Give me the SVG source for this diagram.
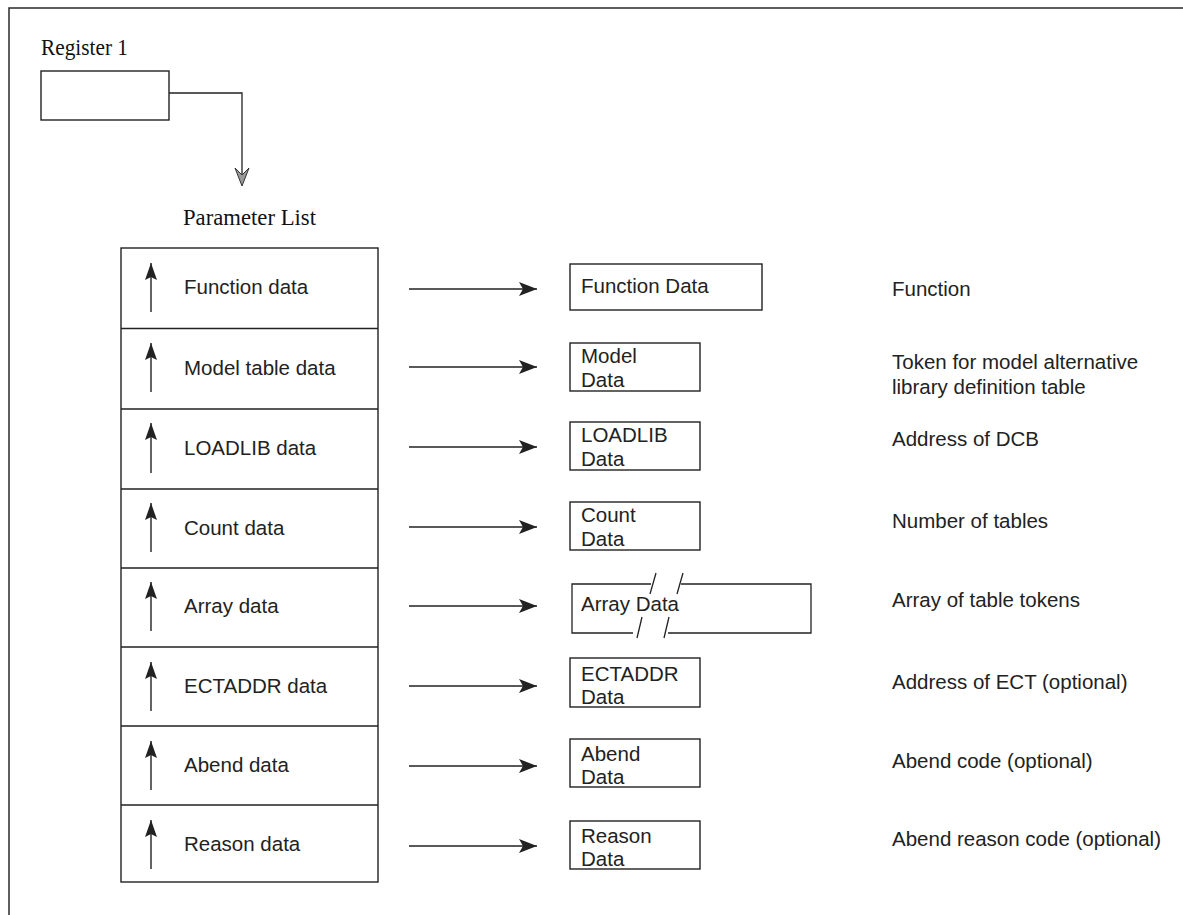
<svg xmlns="http://www.w3.org/2000/svg" width="1183" height="915" viewBox="0 0 1183 915">
  <style>
    .frame { fill: none; stroke: #2a2a2a; stroke-width: 1.5; }
    .box { fill: #ffffff; stroke: #222222; stroke-width: 1.4; }
    .line { fill: none; stroke: #222222; stroke-width: 1.3; }
    .sans { font-family: "Liberation Sans", Arial, Helvetica, sans-serif; font-size: 20.5px; fill: #222222; }
    .serif { font-family: "Liberation Serif", "Times New Roman", serif; font-size: 23px; fill: #111111; }
    .arrow-h { fill: none; stroke: #222222; stroke-width: 1.3; marker-end: url(#headRight); }
    .arrow-v { fill: none; stroke: #222222; stroke-width: 1.4; marker-end: url(#headUp); }
  </style>
  <defs>
    <marker id="headRight" viewBox="0 0 18 14" refX="18" refY="7" markerWidth="18" markerHeight="14" markerUnits="userSpaceOnUse" orient="auto">
      <path d="M0,0 L18,7 L0,14 L4,7 Z" fill="#222222"/>
    </marker>
    <marker id="headUp" viewBox="0 0 17 12" refX="17" refY="6" markerWidth="17" markerHeight="12" markerUnits="userSpaceOnUse" orient="auto">
      <path d="M0,0 L17,6 L0,12 L3,6 Z" fill="#222222"/>
    </marker>
  </defs>

  <!-- page frame (top and left edges) -->
  <path class="frame" d="M9,915 V8 H1183"/>

  <!-- register 1 -->
  <g id="register1">
    <text class="serif" x="41" y="55" textLength="87" lengthAdjust="spacingAndGlyphs">Register 1</text>
    <rect class="box" x="41" y="71" width="128" height="49"/>
  </g>

  <!-- parameter list -->
  <g id="parameter-list">
    <text class="serif" x="183" y="225" textLength="133" lengthAdjust="spacingAndGlyphs">Parameter List</text>
    <rect class="box" x="121" y="248" width="257" height="634"/>
    <path class="line" d="M121,328.5 H378 M121,409 H378 M121,489 H378 M121,568 H378 M121,647 H378 M121,726 H378 M121,805 H378"/>
    <g id="cell-function"><text class="sans" x="184" y="294">Function data</text></g>
    <g id="cell-model"><text class="sans" x="184" y="375">Model table data</text></g>
    <g id="cell-loadlib"><text class="sans" x="184" y="455">LOADLIB data</text></g>
    <g id="cell-count"><text class="sans" x="184" y="535">Count data</text></g>
    <g id="cell-array"><text class="sans" x="184" y="613">Array data</text></g>
    <g id="cell-ectaddr"><text class="sans" x="184" y="693">ECTADDR data</text></g>
    <g id="cell-abend"><text class="sans" x="184" y="772">Abend data</text></g>
    <g id="cell-reason"><text class="sans" x="184" y="851">Reason data</text></g>
  </g>

  <!-- target data areas -->
  <g id="function-data">
    <rect class="box" x="570" y="264" width="192" height="46"/>
    <text class="sans" x="581" y="293">Function Data</text>
  </g>
  <g id="model-data">
    <rect class="box" x="570" y="343" width="130" height="48"/>
    <text class="sans" x="581" y="363">Model</text>
    <text class="sans" x="581" y="387">Data</text>
  </g>
  <g id="loadlib-data">
    <rect class="box" x="570" y="422" width="130" height="48"/>
    <text class="sans" x="581" y="442">LOADLIB</text>
    <text class="sans" x="581" y="466">Data</text>
  </g>
  <g id="count-data">
    <rect class="box" x="570" y="502" width="130" height="48"/>
    <text class="sans" x="581" y="522">Count</text>
    <text class="sans" x="581" y="546">Data</text>
  </g>
  <g id="array-data">
    <!-- open-ended array box with break marks -->
    <path class="line" d="M651,584 H572 V633 H633 M668,633 H811 V584 H681"/>
    <path class="line" d="M656,573 L650,594 M683,573 L677,594 M642,617 L637,638 M669,617 L664,638"/>
    <text class="sans" x="581" y="611">Array Data</text>
  </g>
  <g id="ectaddr-data">
    <rect class="box" x="570" y="658" width="130" height="49"/>
    <text class="sans" x="581" y="681">ECTADDR</text>
    <text class="sans" x="581" y="704">Data</text>
  </g>
  <g id="abend-data">
    <rect class="box" x="570" y="739" width="130" height="48"/>
    <text class="sans" x="581" y="761">Abend</text>
    <text class="sans" x="581" y="784">Data</text>
  </g>
  <g id="reason-data">
    <rect class="box" x="570" y="821" width="130" height="48"/>
    <text class="sans" x="581" y="843">Reason</text>
    <text class="sans" x="581" y="866">Data</text>
  </g>

  <!-- descriptions -->
  <g id="descriptions">
    <text class="sans" x="892" y="296">Function</text>
    <text class="sans" x="892" y="369">Token for model alternative</text>
    <text class="sans" x="892" y="394">library definition table</text>
    <text class="sans" x="892" y="446">Address of DCB</text>
    <text class="sans" x="892" y="528">Number of tables</text>
    <text class="sans" x="892" y="607">Array of table tokens</text>
    <text class="sans" x="892" y="689">Address of ECT (optional)</text>
    <text class="sans" x="892" y="768">Abend code (optional)</text>
    <text class="sans" x="892" y="846">Abend reason code (optional)</text>
  </g>

  <!-- connectors -->
  <g id="connectors">
    <path class="line" d="M169,93 H242 V176"/>
    <path d="M242,186 L235,168 L242,175 L249,168 Z" fill="#9a9a9a" stroke="#333333" stroke-width="1"/>

    <path class="arrow-v" d="M151,312 V263"/>
    <path class="arrow-v" d="M151,392 V343"/>
    <path class="arrow-v" d="M151,473 V423"/>
    <path class="arrow-v" d="M151,552 V503"/>
    <path class="arrow-v" d="M151,631 V582"/>
    <path class="arrow-v" d="M151,711 V662"/>
    <path class="arrow-v" d="M151,790 V741"/>
    <path class="arrow-v" d="M151,869 V820"/>

    <path class="arrow-h" d="M409,289 H537"/>
    <path class="arrow-h" d="M409,367 H537"/>
    <path class="arrow-h" d="M409,447 H537"/>
    <path class="arrow-h" d="M409,527 H537"/>
    <path class="arrow-h" d="M409,606 H537"/>
    <path class="arrow-h" d="M409,686 H537"/>
    <path class="arrow-h" d="M409,766 H537"/>
    <path class="arrow-h" d="M409,846 H537"/>
  </g>
</svg>
